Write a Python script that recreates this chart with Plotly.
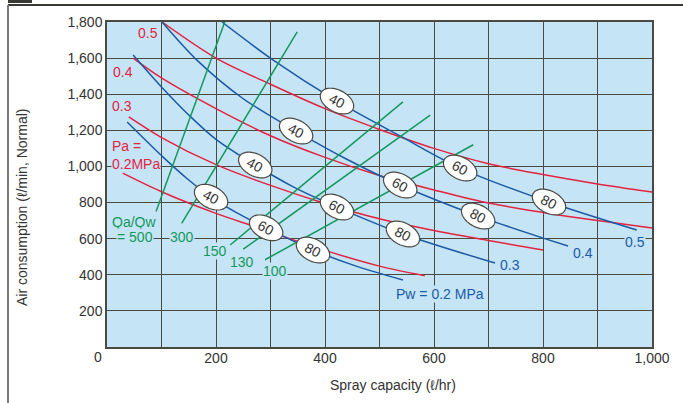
import numpy as np
import plotly.graph_objects as go

# ---- Air pressure curves, Pa (MPa): spray capacity (l/hr) -> air consumption (l/min, Normal)
pa_labels = ["0.5", "0.4", "0.3", "0.2"]
pa_05_x = [101, 200, 300, 400, 500, 600, 700, 800, 900, 1000]
pa_05_y = [1800, 1600, 1455, 1320, 1205, 1100, 1015, 955, 903, 858]
pa_04_x = [48, 100, 200, 300, 400, 500, 600, 700, 800, 900, 1000]
pa_04_y = [1600, 1490, 1320, 1170, 1050, 950, 870, 797, 745, 700, 659]
pa_03_x = [40, 100, 200, 300, 400, 500, 600, 700, 800]
pa_03_y = [1274, 1160, 1010, 895, 795, 710, 645, 590, 537]
pa_02_x = [29, 100, 200, 268, 300, 400, 500, 583]
pa_02_y = [963, 860, 740, 670, 637, 535, 448, 395]

# ---- Water pressure curves, Pw (MPa)
pw_labels = ["0.5", "0.4", "0.3", "Pw = 0.2 MPa"]
pw_05_x = [211, 305, 422, 540, 648, 811, 972]
pw_05_y = [1800, 1589, 1362, 1165, 991, 803, 648]
pw_04_x = [101, 165, 250, 347, 440, 538, 681, 846]
pw_04_y = [1800, 1589, 1375, 1196, 1040, 897, 725, 559]
pw_03_x = [48, 100, 150, 200, 272, 340, 422, 543, 712]
pw_03_y = [1617, 1440, 1285, 1150, 1008, 890, 775, 626, 465]
pw_02_x = [37, 100, 150, 191, 240, 292, 378, 460, 543]
pw_02_y = [1246, 1060, 925, 830, 740, 660, 537, 445, 371]

# ---- Air/water ratio lines Qa/Qw (Qa in l/min, Qw in l/hr)
ratio_values = [500, 300, 150, 130, 100]
ratio_qw_from = [90, 137, 226, 250, 290]
ratio_qw_to = [216, 349, 543, 593, 672]

# ---- Ellipse marks on each Pw curve (spray capacity where they sit)
mark_values = ["40", "60", "80"]
mark_qw_pw05 = [422, 648, 811]
mark_qw_pw04 = [347, 538, 681]
mark_qw_pw03 = [272, 422, 543]
mark_qw_pw02 = [191, 292, 378]

# ---- Axis ticks
x_ticks = list(range(0, 1001, 100))
x_ticktext = ["", "", "200", "", "400", "", "600", "", "800", "", "1,000"]
y_ticks = list(range(0, 1801, 200))
y_ticktext = [""] + ["{:,}".format(v) for v in y_ticks[1:]]

RED = "#e5223f"
BLUE = "#1c5aa6"
GREEN = "#14985c"
BG = "#c5e5f6"
GRID = "#4a4a42"
TXT = "#333333"
FONT = "Liberation Sans, Arial, sans-serif"

W, H = 683, 403
ML, MR, MT, MB = 107, 31, 22, 56
PW_ = W - ML - MR
PH_ = H - MT - MB


def px_x(p):
    return (p - ML) / PW_


def px_y(p):
    return (H - MB - p) / PH_


fig = go.Figure()

pa_series = [(pa_05_x, pa_05_y), (pa_04_x, pa_04_y), (pa_03_x, pa_03_y), (pa_02_x, pa_02_y)]
pw_series = [(pw_05_x, pw_05_y), (pw_04_x, pw_04_y), (pw_03_x, pw_03_y), (pw_02_x, pw_02_y)]

for (xs, ys) in pa_series:
    fig.add_trace(go.Scatter(x=xs, y=ys, mode="lines",
                             line=dict(color=RED, width=1.5, shape="spline", smoothing=0.9),
                             hoverinfo="skip", showlegend=False))

for (xs, ys) in pw_series:
    fig.add_trace(go.Scatter(x=xs, y=ys, mode="lines",
                             line=dict(color=BLUE, width=1.5, shape="spline", smoothing=0.9),
                             hoverinfo="skip", showlegend=False))

for r, q0, q1 in zip(ratio_values, ratio_qw_from, ratio_qw_to):
    qw = np.array([q0, q1], dtype=float)
    fig.add_trace(go.Scatter(x=qw, y=qw * r / 60.0, mode="lines",
                             line=dict(color=GREEN, width=1.5),
                             hoverinfo="skip", showlegend=False))

shapes = []
annotations = []

# rotated ellipse outline, in pixels relative to its anchor (y up)
a_px, b_px, tilt = 18, 11, np.deg2rad(28)
t = np.linspace(0, 2 * np.pi, 48, endpoint=False)
ex = a_px * np.cos(t) * np.cos(tilt) - b_px * np.sin(t) * np.sin(tilt)
ey = -(a_px * np.cos(t) * np.sin(tilt) + b_px * np.sin(t) * np.cos(tilt))
ellipse_path = "M " + " L ".join(f"{u:.2f},{v:.2f}" for u, v in zip(ex, ey)) + " Z"

mark_sets = [mark_qw_pw05, mark_qw_pw04, mark_qw_pw03, mark_qw_pw02]
for (xs, ys), qws in zip(pw_series, mark_sets):
    for q, lab in zip(qws, mark_values):
        yv = float(np.interp(q, xs, ys))
        shapes.append(dict(type="path", xref="x", yref="y", xsizemode="pixel", ysizemode="pixel",
                           xanchor=q, yanchor=yv, path=ellipse_path,
                           fillcolor="white", line=dict(color=GRID, width=1.2), layer="above"))
        annotations.append(dict(x=q, y=yv, xref="x", yref="y", text=lab, showarrow=False,
                                textangle=28, font=dict(family=FONT, size=14, color=TXT)))


def label(text, x, y, color, xanchor="center", bg=True, angle=0):
    annotations.append(dict(x=px_x(x), y=px_y(y), xref="paper", yref="paper", text=text,
                            showarrow=False, xanchor=xanchor, yanchor="middle", textangle=angle,
                            font=dict(family=FONT, size=14, color=color),
                            bgcolor=BG if bg else None, borderpad=0))


# Pa labels
label("0.5", 137, 33, RED, "left", bg=False)
label("0.4", 112, 72, RED, "left", bg=False)
label("0.3", 111, 106, RED, "left", bg=False)
label("Pa =", 111, 146, RED, "left", bg=False)
label("0.2MPa", 111, 164, RED, "left")

# Qa/Qw labels
label("Qa/Qw", 111, 222, GREEN, "left", bg=False)
label("= 500", 116, 237, GREEN, "left")
label("300", 182, 237, GREEN)
label("150", 215, 251, GREEN)
label("130", 242, 262, GREEN)
label("100", 275, 271, GREEN)

# Pw labels
label("0.5", 635, 242, BLUE)
label("0.4", 583, 253, BLUE)
label("0.3", 510, 265, BLUE)
label("Pw = 0.2 MPa", 440, 294, BLUE)

# origin label and axis titles
label("0", 98, 357, TXT, bg=False)
label("Spray capacity (ℓ/hr)", 393, 385, TXT, bg=False)
label("Air consumption (ℓ/min, Normal)", 22, 208, TXT, bg=False, angle=-90)

# page frame and heading block
shapes.append(dict(type="line", xref="paper", yref="paper", x0=px_x(8), x1=px_x(683),
                   y0=px_y(5), y1=px_y(5), line=dict(color="#3a3a34", width=2), layer="above"))
shapes.append(dict(type="line", xref="paper", yref="paper", x0=px_x(8), x1=px_x(8),
                   y0=px_y(5), y1=px_y(403), line=dict(color="#7a7a7a", width=2), layer="above"))
shapes.append(dict(type="rect", xref="paper", yref="paper", x0=px_x(8), x1=px_x(32),
                   y0=px_y(3), y1=px_y(0), fillcolor="#3a3a34", line=dict(width=0), layer="above"))

fig.update_layout(
    width=W, height=H,
    margin=dict(l=ML, r=MR, t=MT, b=MB, pad=0),
    paper_bgcolor="white", plot_bgcolor=BG,
    font=dict(family=FONT, size=14, color=TXT),
    shapes=shapes, annotations=annotations,
    xaxis=dict(range=[0, 1000], tickvals=x_ticks, ticktext=x_ticktext, showgrid=True,
               gridcolor=GRID, gridwidth=1.3, zeroline=False, showline=True, mirror=True,
               linecolor=GRID, linewidth=1.5, ticks="", tickfont=dict(size=14, color=TXT),
               ticklabelstandoff=-3),
    yaxis=dict(range=[0, 1800], tickvals=y_ticks, ticktext=y_ticktext, showgrid=True,
               gridcolor=GRID, gridwidth=1.3, zeroline=False, showline=True, mirror=True,
               linecolor=GRID, linewidth=1.5, ticks="", tickfont=dict(size=14, color=TXT),
               ticklabelstandoff=0),
)

fig.write_html("out.html")
